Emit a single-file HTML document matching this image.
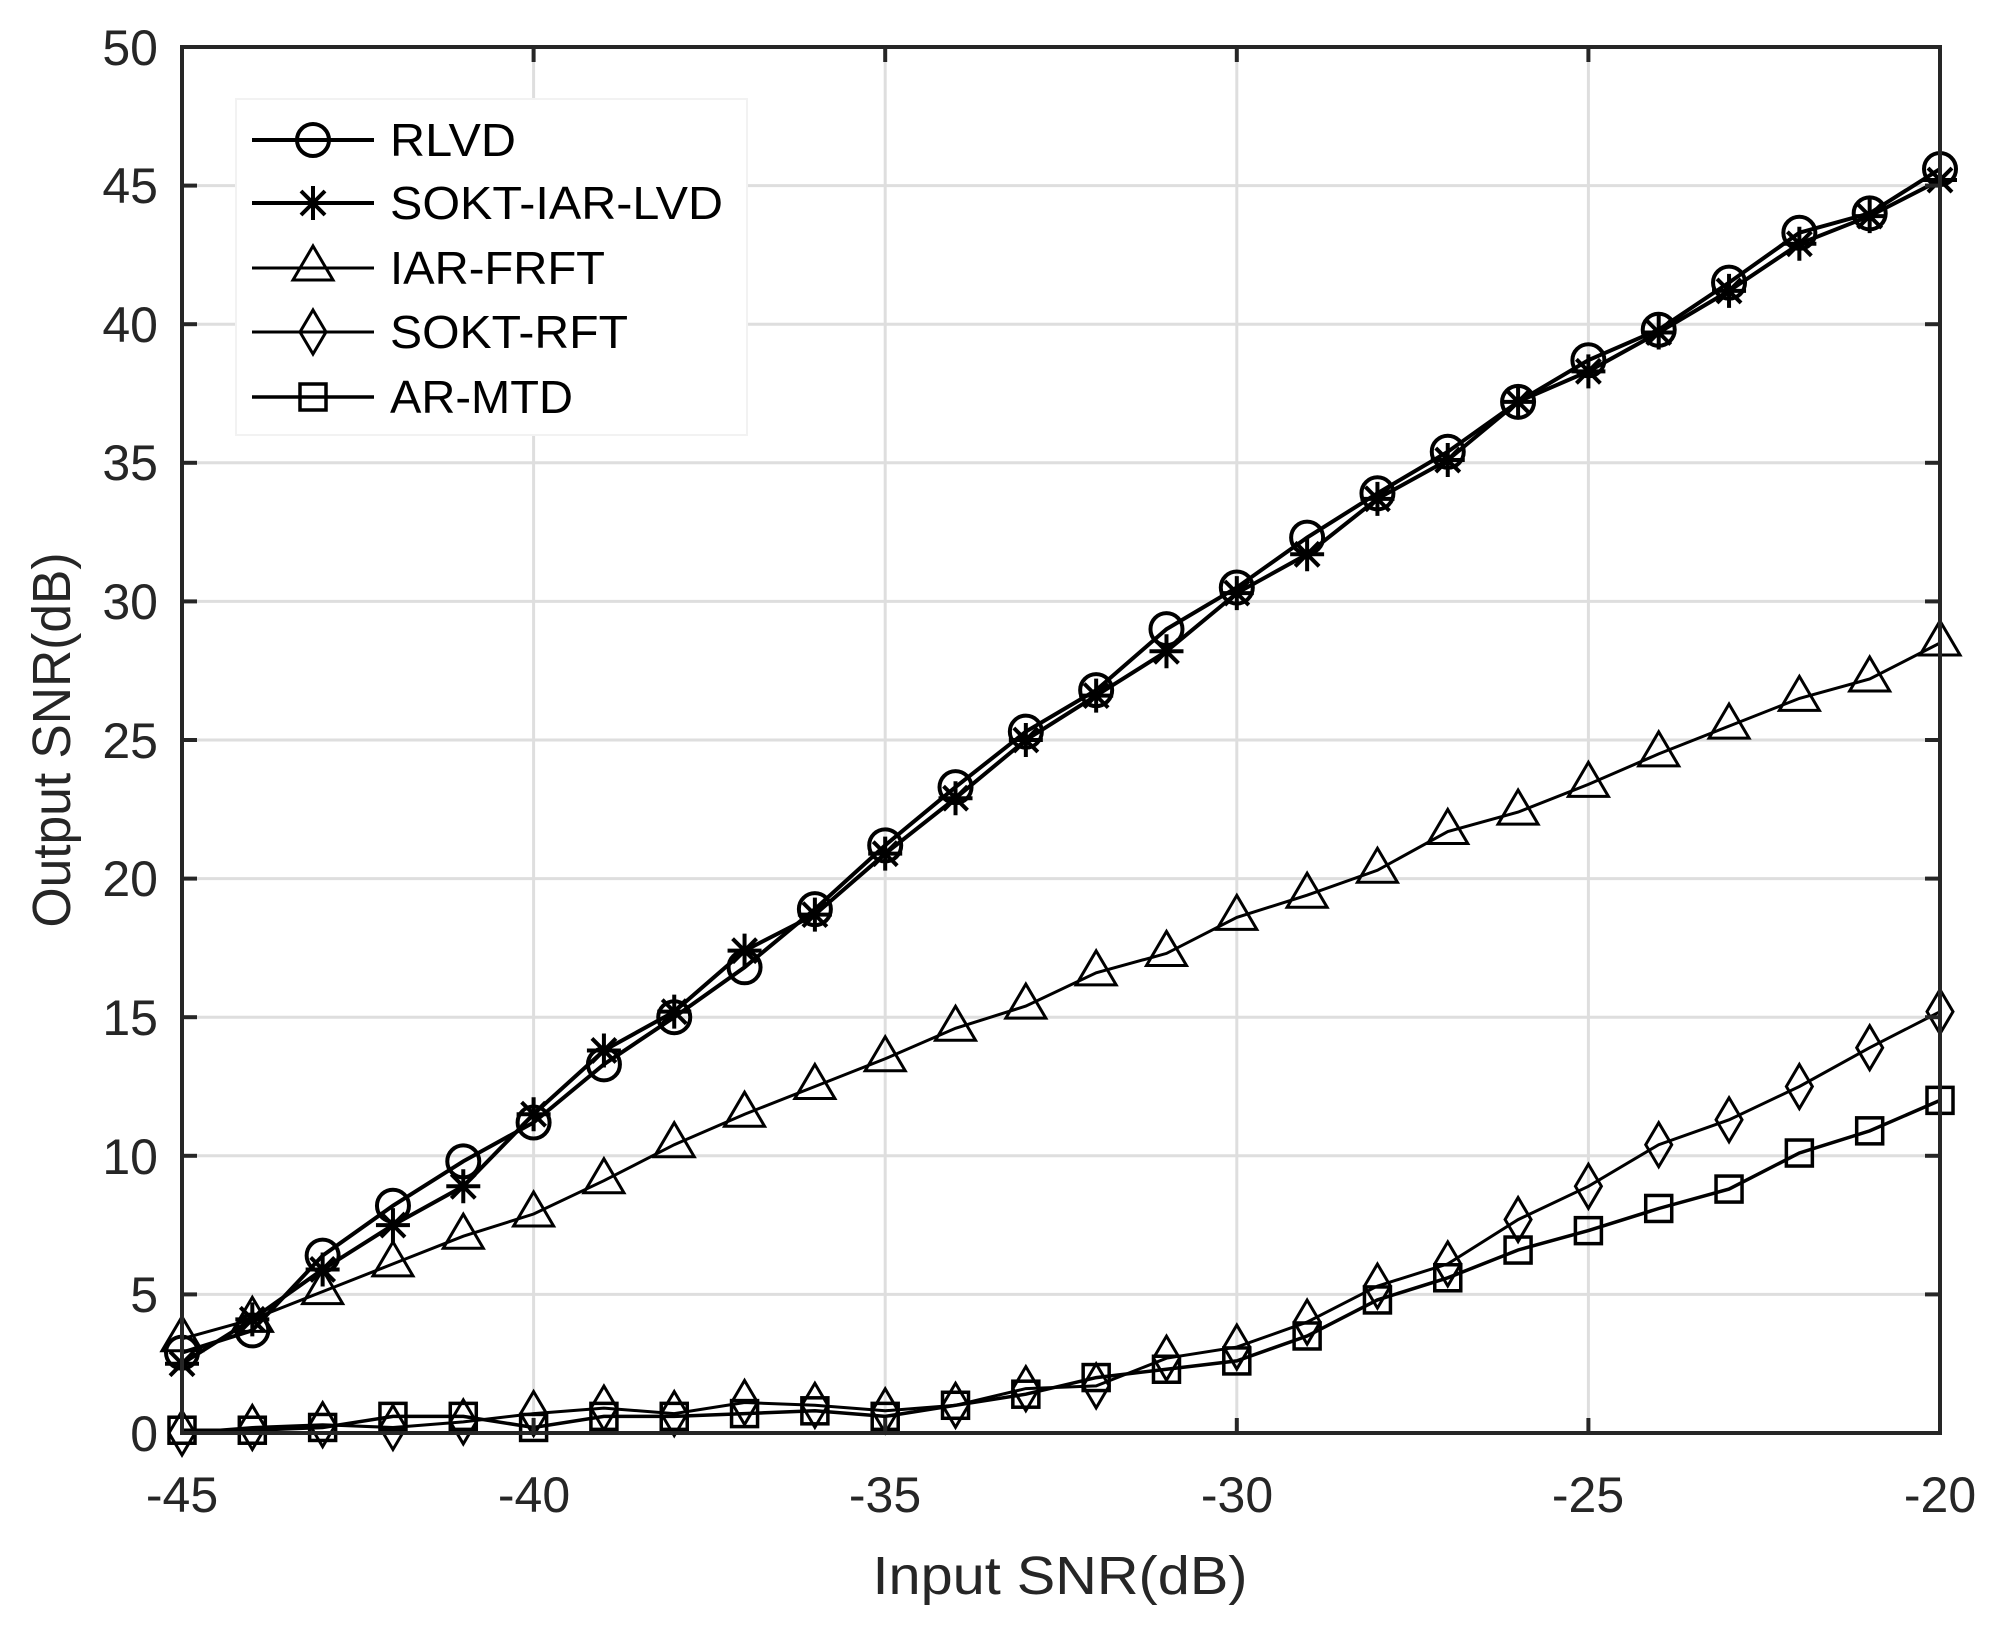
<!DOCTYPE html>
<html><head><meta charset="utf-8"><style>
html,body{margin:0;padding:0;background:#fff;}
svg{display:block;font-family:"Liberation Sans",Arial,sans-serif;}
</style></head><body>
<svg id="s" width="2000" height="1629" viewBox="0 0 2000 1629" xmlns="http://www.w3.org/2000/svg">
<rect width="2000" height="1629" fill="#fff"/>
<g id="grid" stroke="#dedede" stroke-width="3"></g>
<g id="series" fill="none" stroke="#000" stroke-linejoin="miter"></g>
<rect x="182" y="47" width="1758" height="1386" fill="none" stroke="#262626" stroke-width="4"/>
<g id="ticks" stroke="#262626" stroke-width="4"></g>
<g fill="#262626" font-size="50" text-anchor="middle">
<text x="182" y="1512">-45</text><text x="534" y="1512">-40</text><text x="885" y="1512">-35</text>
<text x="1237" y="1512">-30</text><text x="1588" y="1512">-25</text><text x="1940" y="1512">-20</text>
</g>
<g fill="#262626" font-size="50" text-anchor="end">
<text x="158" y="1451">0</text><text x="158" y="1312">5</text><text x="158" y="1174">10</text>
<text x="158" y="1035">15</text><text x="158" y="896">20</text><text x="158" y="758">25</text>
<text x="158" y="619">30</text><text x="158" y="480">35</text><text x="158" y="342">40</text>
<text x="158" y="203">45</text><text x="158" y="65">50</text>
</g>
<text x="1060" y="1594" font-size="54" text-anchor="middle" fill="#262626" textLength="375" lengthAdjust="spacingAndGlyphs">Input SNR(dB)</text>
<text transform="translate(70,740) rotate(-90)" font-size="54" text-anchor="middle" fill="#262626" textLength="375" lengthAdjust="spacingAndGlyphs">Output SNR(dB)</text>
<rect x="236" y="99" width="511" height="336" fill="#fff" stroke="#f2f2f2" stroke-width="2"/>
<g id="legend" fill="none" stroke="#000"></g>
<g fill="#000" font-size="46">
<text x="390" y="156" textLength="126" lengthAdjust="spacingAndGlyphs">RLVD</text>
<text x="390" y="219" textLength="333" lengthAdjust="spacingAndGlyphs">SOKT-IAR-LVD</text>
<text x="390" y="284" textLength="215" lengthAdjust="spacingAndGlyphs">IAR-FRFT</text>
<text x="390" y="348" textLength="238" lengthAdjust="spacingAndGlyphs">SOKT-RFT</text>
<text x="390" y="413" textLength="183" lengthAdjust="spacingAndGlyphs">AR-MTD</text>
</g>
</svg>
<script>
var NS="http://www.w3.org/2000/svg";
function X(v){return 182+(v+45)*70.32;}
function Y(v){return 1433-v*27.72;}
function el(p,t,a){var e=document.createElementNS(NS,t);for(var k in a)e.setAttribute(k,a[k]);p.appendChild(e);return e;}
var g=document.getElementById('grid'),tk=document.getElementById('ticks');
for(var i=-40;i<=-25;i+=5){el(g,'line',{x1:X(i),x2:X(i),y1:47,y2:1433});}
for(var j=5;j<=45;j+=5){el(g,'line',{x1:182,x2:1940,y1:Y(j),y2:Y(j)});}
for(var i=-45;i<=-20;i+=5){el(tk,'line',{x1:X(i),x2:X(i),y1:1433,y2:1418});el(tk,'line',{x1:X(i),x2:X(i),y1:47,y2:62});}
for(var j=0;j<=50;j+=5){el(tk,'line',{x1:182,x2:197,y1:Y(j),y2:Y(j)});el(tk,'line',{x1:1940,x2:1925,y1:Y(j),y2:Y(j)});}
var D={
o:[2.9,3.7,6.4,8.2,9.8,11.2,13.3,15.0,16.8,18.9,21.2,23.3,25.3,26.8,29.0,30.5,32.3,33.9,35.4,37.2,38.7,39.8,41.5,43.3,44.0,45.6],
s:[2.5,4.1,5.9,7.5,8.9,11.5,13.8,15.2,17.4,18.7,20.9,22.9,25.0,26.6,28.2,30.3,31.7,33.7,35.1,37.2,38.3,39.7,41.2,42.9,43.9,45.2],
t:[3.4,4.1,5.1,6.1,7.1,7.9,9.1,10.4,11.5,12.5,13.5,14.6,15.4,16.6,17.3,18.6,19.4,20.3,21.7,22.4,23.4,24.5,25.5,26.5,27.2,28.5],
d:[0.0,0.2,0.3,0.2,0.4,0.7,0.9,0.7,1.1,1.0,0.8,1.0,1.6,1.7,2.7,3.1,4.0,5.3,6.1,7.7,8.9,10.4,11.3,12.5,13.9,15.2],
q:[0.1,0.1,0.2,0.6,0.6,0.2,0.6,0.6,0.7,0.8,0.6,1.0,1.4,2.0,2.3,2.6,3.5,4.8,5.6,6.6,7.3,8.1,8.8,10.1,10.9,12.0]};
function marker(p,m,x,y,w){
 if(m=='o')el(p,'circle',{cx:x,cy:y,r:16,'stroke-width':w});
 else if(m=='s'){var r=17;el(p,'path',{d:'M'+(x-r)+' '+y+'H'+(x+r)+'M'+x+' '+(y-r)+'V'+(y+r)+'M'+(x-12)+' '+(y-12)+'L'+(x+12)+' '+(y+12)+'M'+(x-12)+' '+(y+12)+'L'+(x+12)+' '+(y-12),'stroke-width':w});}
 else if(m=='t')el(p,'path',{d:'M'+x+' '+(y-22)+'L'+(x+20)+' '+(y+12)+'L'+(x-20)+' '+(y+12)+'Z','stroke-width':w});
 else if(m=='d')el(p,'path',{d:'M'+x+' '+(y-22)+'L'+(x+13)+' '+y+'L'+x+' '+(y+22)+'L'+(x-13)+' '+y+'Z','stroke-width':w});
 else if(m=='q')el(p,'rect',{x:x-13,y:y-13,width:26,height:26,'stroke-width':w});
}
var sg=document.getElementById('series');
var W={o:4,s:4,t:3,d:3,q:3.5};
['q','d','t','s','o'].forEach(function(k){
 var pts=D[k].map(function(v,i){return X(-45+i).toFixed(1)+','+Y(v).toFixed(1);}).join(' ');
 el(sg,'polyline',{points:pts,'stroke-width':W[k]});
 D[k].forEach(function(v,i){marker(sg,k,X(-45+i),Y(v),W[k]);});
});
var lg=document.getElementById('legend');
var ly={o:140,s:203,t:268,d:332,q:397};
for(var k in ly){el(lg,'line',{x1:252,x2:374,y1:ly[k],y2:ly[k],'stroke-width':W[k]});marker(lg,k,313,ly[k],W[k]);}
</script>
</body></html>
